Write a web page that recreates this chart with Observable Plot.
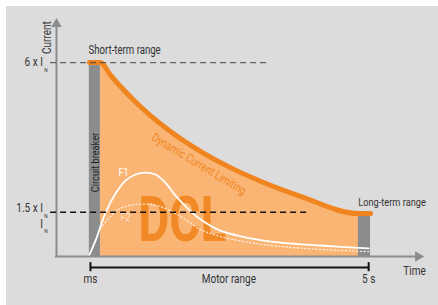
<!DOCTYPE html>
<html><head><meta charset="utf-8">
<script src="https://cdn.jsdelivr.net/npm/d3@7"></script>
<script src="https://cdn.jsdelivr.net/npm/@observablehq/plot@0.6"></script>
<style>
body{margin:0;background:#fff;width:438px;height:305px;overflow:hidden;position:relative}
#bg{position:absolute;left:6px;top:6px;width:432px;height:299px;background:#dcdcdc}
#chart{position:absolute;left:0;top:0}
</style></head>
<body><div id="bg"></div><div id="chart"></div>
<script>
// Dynamic current limiting envelope (time units, multiples of I_N)
const dclX = [0.894, 1.192, 1.463, 1.734, 2.141, 2.547, 3.089, 3.902, 4.715, 5.528, 6.612, 8.184, 8.509];
const dclY = [6.006, 6.006, 5.616, 5.263, 4.786, 4.365, 3.873, 3.257, 2.752, 2.331, 1.864, 1.331, 1.331];
// F1 curve
const f1X = [0.87, 1.06, 1.33, 1.60, 1.87, 2.14, 2.41, 2.68, 2.95, 3.22, 3.50, 3.90, 4.44, 5.26, 6.07, 7.15, 8.46];
const f1Y = [0, 0.50, 1.36, 1.95, 2.35, 2.54, 2.60, 2.54, 2.29, 1.89, 1.55, 1.15, 0.80, 0.56, 0.43, 0.34, 0.25];
// F2 curve
const f2X = [1.19, 1.46, 1.73, 2.14, 2.55, 2.95, 3.36, 3.90, 4.44, 5.26, 6.07, 7.15, 8.46];
const f2Y = [0.87, 1.24, 1.49, 1.61, 1.61, 1.49, 1.24, 0.84, 0.62, 0.43, 0.31, 0.22, 0.15];
// ranges
const breaker = {x1: 0.89, x2: 1.19, y2: 5.95};
const longTerm = {x1: 8.18, x2: 8.51, y2: 1.24};
const levels = {short: 6.0, long: 1.37};
const motorRange = {x1: 0.92, x2: 8.46, y: -0.34};
const tickLabels = ["ms", "Motor range", "5 s"];
const tickLabelX = [0.92, 4.67, 8.46];

const FONT = "Roboto,'Noto Sans',sans-serif";
const ORANGE = "#f08520";
const FILL = "#fab574";
const GRAY = "#8a8c8e";
const TXT = "#333";

const dcl = dclX.map((x, i) => ({x, y: dclY[i]}));
const area = dcl.filter(d => d.x >= 1.19 && d.x <= 8.19);
const f1 = f1X.map((x, i) => ({x, y: f1Y[i]}));
const f2 = f2X.map((x, i) => ({x, y: f2Y[i]}));

const plot = Plot.plot({
  width: 438, height: 305,
  marginLeft: 56, marginRight: 13, marginTop: 17, marginBottom: 49,
  x: {domain: [0, 10], axis: null},
  y: {domain: [0, 7.4], axis: null},
  style: {background: "transparent", fontFamily: FONT, overflow: "visible"},
  marks: [
    Plot.areaY(area, {x: "x", y: "y", fill: FILL, curve: "monotone-x"}),
    Plot.rect([breaker], {x1: "x1", x2: "x2", y1: 0, y2: "y2", fill: GRAY}),
    Plot.rect([longTerm], {x1: "x1", x2: "x2", y1: 0, y2: "y2", fill: GRAY}),
    Plot.text(["DCL"], {x: 3.41, y: 1.11, text: d => d, fontSize: 63, fontWeight: "bold", fill: ORANGE, fillOpacity: 0.92, lineAnchor: "middle", className: "dcl"}),
    Plot.line(f2, {x: "x", y: "y", stroke: "#fff", strokeOpacity: 0.75, strokeWidth: 1.3, strokeDasharray: "1.2,2.5", curve: "catmull-rom"}),
    Plot.line(f1, {x: "x", y: "y", stroke: "#fff", strokeWidth: 1.8, curve: "catmull-rom"}),
    Plot.text(["F1"], {x: 1.82, y: 2.60, text: d => d, fill: "#fff", fontSize: 11.5}),
    Plot.text(["F2"], {x: 1.87, y: 1.20, text: d => d, fill: "#fff", fillOpacity: 0.6, fontSize: 11.5}),
    Plot.line(dcl, {x: "x", y: "y", stroke: ORANGE, strokeWidth: 5, curve: "monotone-x"}),
    // axes
    Plot.ruleX([0], {y1: 0, y2: 7.2, stroke: GRAY, strokeWidth: 2}),
    Plot.ruleY([0], {x1: -0.03, x2: 9.8, stroke: GRAY, strokeWidth: 2}),
    Plot.dot([{x: 0, y: 7.2}], {x: "x", y: "y", symbol: "triangle2", r: 5, fill: GRAY, stroke: null}),
    Plot.dot([{x: 9.8, y: 0}], {x: "x", y: "y", symbol: "triangle2", r: 5, fill: GRAY, stroke: null, rotate: 90}),
    // level dashed lines
    Plot.ruleY([levels.short], {x1: -0.16, x2: 5.8, stroke: "#444", strokeWidth: 1, strokeDasharray: "6,4"}),
    Plot.ruleY([levels.long], {x1: -0.16, x2: 6.88, stroke: "#111", strokeWidth: 1.5, strokeDasharray: "6,4"}),
    // y labels
    Plot.text(["6 x I"], {x: -0.37, y: 6.03, text: d => d, textAnchor: "end", fontSize: 12.5, fill: TXT}),
    Plot.text(["N"], {x: -0.33, y: 5.76, text: d => d, textAnchor: "start", fontSize: 6, fill: TXT}),
    Plot.text(["1.5 x I"], {x: -0.37, y: 1.51, text: d => d, textAnchor: "end", fontSize: 12.5, fill: TXT}),
    Plot.text(["N"], {x: -0.33, y: 1.26, text: d => d, textAnchor: "start", fontSize: 6, fill: TXT}),
    Plot.text(["I"], {x: -0.37, y: 1.02, text: d => d, textAnchor: "end", fontSize: 12.5, fill: TXT}),
    Plot.text(["N"], {x: -0.33, y: 0.78, text: d => d, textAnchor: "start", fontSize: 6, fill: TXT}),
    Plot.text(["Current"], {x: -0.27, y: 6.78, text: d => d, rotate: -90, fontSize: 12.5, fill: TXT}),
    // range labels
    Plot.text(["Short-term range"], {x: 0.87, y: 6.38, text: d => d, textAnchor: "start", fontSize: 12, fill: TXT}),
    Plot.text(["Long-term range"], {x: 8.18, y: 1.67, text: d => d, textAnchor: "start", fontSize: 11.5, fill: TXT}),
    Plot.text(["Circuit breaker"], {x: 1.04, y: 2.91, text: d => d, rotate: -90, fontSize: 11.5, fill: "#222"}),
    Plot.text(["Dynamic Current Limiting"], {x: 3.86, y: 2.86, text: d => d, rotate: 31, fontSize: 12, fill: ORANGE}),
    Plot.text(["Time"], {x: 9.40, y: -0.46, text: d => d, textAnchor: "start", fontSize: 12.5, fill: TXT}),
    // motor range bracket
    Plot.ruleY([motorRange.y], {x1: motorRange.x1, x2: motorRange.x2, stroke: "#111", strokeWidth: 2}),
    Plot.ruleX([motorRange.x1, motorRange.x2], {y1: -0.19, y2: -0.47, stroke: "#111", strokeWidth: 2}),
    Plot.text(tickLabels, {x: (d, i) => tickLabelX[i], y: -0.71, text: d => d, fontSize: 12.5, fill: TXT})
  ]
});
document.getElementById("chart").appendChild(plot);
// mimic the condensed typeface of the original
d3.select(plot).selectAll("text").each(function () {
  const w = this.getComputedTextLength();
  if (w > 0) {
    const k = this.closest(".dcl") ? 0.76 : 0.8;
    this.setAttribute("textLength", w * k);
    this.setAttribute("lengthAdjust", "spacingAndGlyphs");
  }
});
</script></body></html>
